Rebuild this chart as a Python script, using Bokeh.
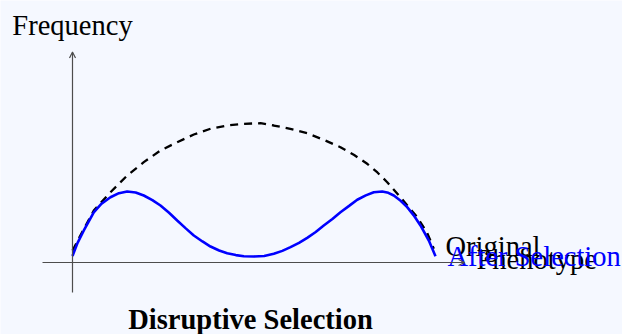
from bokeh.plotting import figure
from bokeh.models import Range1d, Arrow, OpenHead
from bokeh.core.properties import value
from bokeh.embed import file_html
from bokeh.resources import INLINE

# ---- data ----
# Original population distribution (dashed)
orig_x = [0.0, 0.15, 0.293, 0.523, 0.753, 0.982, 1.212, 1.442, 1.671, 1.901,
          2.131, 2.36, 2.59, 2.773, 3.0, 3.233, 3.46, 3.691, 3.88, 4.059,
          4.2, 4.335, 4.518, 4.748, 4.88, 4.977]
orig_y = [0.165, 0.45, 0.716, 0.968, 1.198, 1.382, 1.543, 1.657, 1.763, 1.842,
          1.887, 1.91, 1.919, 1.887, 1.84, 1.781, 1.69, 1.588, 1.48, 1.36,
          1.24, 1.106, 0.899, 0.624, 0.42, 0.189]
# Distribution after disruptive selection (blue)
after_x = [0.0, 0.07, 0.156, 0.293, 0.40, 0.523, 0.64, 0.753, 0.87, 0.982,
           1.1, 1.212, 1.33, 1.442, 1.56, 1.671, 1.79, 1.901, 2.02, 2.131,
           2.25, 2.36, 2.5, 2.64, 2.773, 2.89, 3.003, 3.12, 3.233, 3.35,
           3.461, 3.58, 3.691, 3.81, 3.922, 4.04, 4.15, 4.266, 4.35, 4.426,
           4.52, 4.61, 4.70, 4.793, 4.908, 5.0]
after_y = [0.09, 0.27, 0.441, 0.692, 0.81, 0.899, 0.955, 0.978, 0.965, 0.923,
           0.86, 0.785, 0.685, 0.579, 0.47, 0.372, 0.29, 0.22, 0.165, 0.128,
           0.102, 0.087, 0.083, 0.09, 0.12, 0.16, 0.211, 0.27, 0.34, 0.42,
           0.51, 0.60, 0.693, 0.78, 0.864, 0.925, 0.968, 0.978, 0.96, 0.923,
           0.85, 0.762, 0.65, 0.51, 0.303, 0.087]

# axis extents
x_axis = [-0.413, 5.40]
y_axis = [-0.413, 2.90]

# text labels
title_text = "Disruptive Selection"
y_label = "Frequency"
x_label = "Phenotype"
orig_label = "Original"
after_label = "After Selection"

BG = "#f5f8ff"
AXC = "#4d4d4d"
FONT = "Liberation Serif"
FS = "28.5px"
DY = 0.124  # baseline correction

p = figure(width=622, height=334, output_backend="svg", toolbar_location=None,
           x_range=Range1d(-0.9917, 7.5758), y_range=Range1d(-0.9917, 3.6088),
           min_border=0, background_fill_color=BG, border_fill_color=BG,
           outline_line_color=None)
p.axis.visible = False
p.grid.visible = False

# axes with arrow heads
p.add_layout(Arrow(end=OpenHead(size=6, line_width=1.2, line_color=AXC),
                   x_start=x_axis[0], y_start=0, x_end=x_axis[1], y_end=0,
                   line_color=AXC, line_width=1.2))
p.add_layout(Arrow(end=OpenHead(size=6, line_width=1.2, line_color=AXC),
                   x_start=0, y_start=y_axis[0], x_end=0, y_end=y_axis[1],
                   line_color=AXC, line_width=1.2))

# curves
p.line(orig_x, orig_y, line_color="black", line_width=2.3, line_dash="8 6")
p.line(after_x, after_y, line_color="#0000ff", line_width=2.6)

# labels
def label(x, y, txt, align="left", color="black", style="normal"):
    p.text(x=[x], y=[y + DY], text=[txt], text_font=value(FONT),
           text_font_size=FS, text_align=align, text_baseline="alphabetic",
           text_color=color, text_font_style=style)

label(0, 3.134, y_label, align="center")
label(5.138, 0.103, orig_label)
label(5.565, -0.0895, x_label)
label(5.165, -0.048, after_label, color="#0000ff")
label(2.452, -0.91, title_text, align="center", style="bold")

open("out.html", "w").write(file_html(p, INLINE))
